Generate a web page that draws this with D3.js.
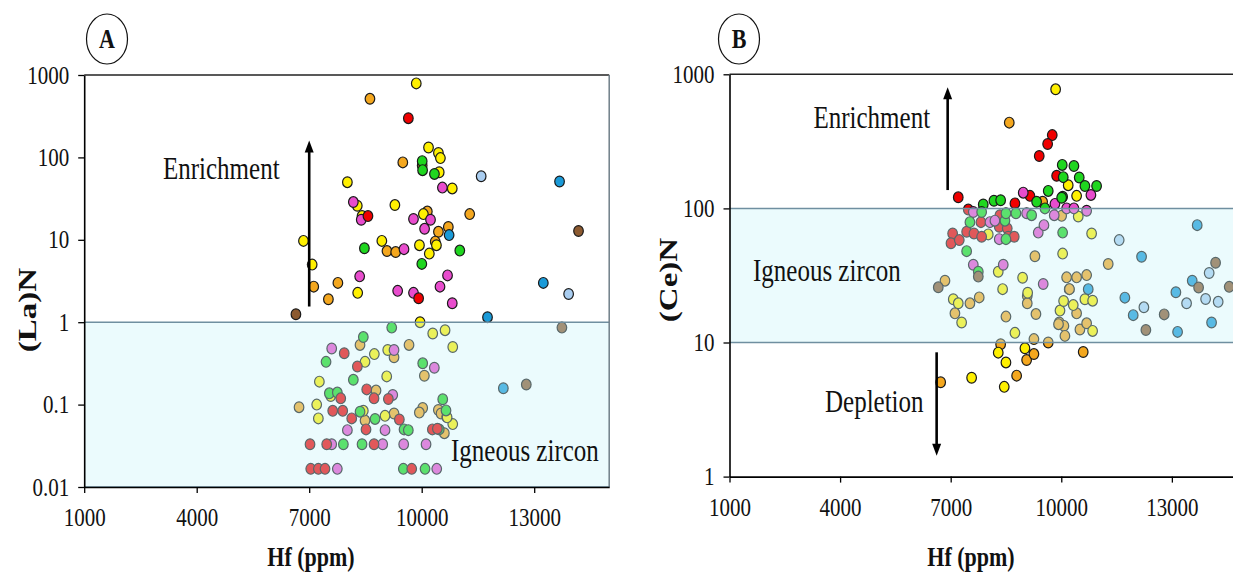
<!DOCTYPE html>
<html>
<head>
<meta charset="utf-8">
<script src="https://cdn.jsdelivr.net/npm/d3@7/dist/d3.min.js"></script>
<style>
  body { margin: 0; background: #fff; }
  svg { display: block; }
</style>
</head>
<body>
<svg id="chart" width="1233" height="574"></svg>
<script>
// ---- axis ticks ----
const hfTicks = [1000, 4000, 7000, 10000, 13000];
const laTicks = [0.01, 0.1, 1, 10, 100, 1000];
const ceTicks = [1, 10, 100, 1000];

// ---- marker colours per sample group ----
const groupColors = {
  orange: "#f4a71e",
  yellow: "#fff000",
  magenta: "#e84ccd",
  green: "#1fd61f",
  red: "#f00000",
  blue: "#1a9ad8",
  lightblue: "#a9cdf0",
  brown: "#8c5a30"
};

// ---- (La)N vs Hf (ppm) ----
const laOrange = [[8620,514],[9496,87],[10013,80],[10150,22],[11280,20.5],[10710,14.3],[10446,12.5],[10361,9.5],[9074,7.3],[9306,7.1],[7121,2.7],[7765,3.0],[7512,1.9],
  [9662,0.53],[8355,0.53],[9262,0.375],[10071,0.224],[8782,0.148],[6729,0.093],[8489,0.064],[9262,0.078],[10027,0.091],[9937,0.08],[10444,0.086],[10516,0.078],[10667,0.071],[10604,0.045]];
const laYellow = [[9855,791],[10182,132],[10446,113],[10499,98],[10467,66],[8018,50],[10815,42],[8282,25.9],[9285,26.4],[8409,19.4],[10045,20.5],[6847,9.7],[8937,9.7],[9940,8.6],[10203,6.8],[10393,8.6],[7079,5.0],[8293,2.27],
  [9956,1.0],[10294,0.73],[10623,0.8],[10828,0.5],[8737,0.41],[9094,0.46],[8489,0.33],[7271,0.19],[9067,0.22],[7574,0.127],[7200,0.1],[7244,0.068],[8443,0.084],[9022,0.073],[10828,0.058],[10678,0.07]];
const laMagenta = [[10552,43],[8177,28.7],[8388,17.5],[9781,17.9],[10235,17.5],[10077,13.6],[9528,7.7],[8346,3.6],[9359,2.4],[9781,2.27],[10488,2.7],[10689,3.7],[10815,1.7],
  [7600,0.48],[9262,0.46],[10337,0.28],[9228,0.131],[8018,0.049],[9022,0.049],[7600,0.033],[8960,0.033],[9520,0.033],[10116,0.033],[7750,0.0166],[10401,0.0166]];
const laGreen = [[10013,90],[10024,70],[10340,63],[8472,7.9],[11016,7.4],[10003,5.1],
  [9201,0.86],[8443,0.66],[7449,0.33],[10027,0.317],[8177,0.2],[7537,0.137],[7750,0.14],[10561,0.116],[8356,0.082],[8756,0.067],[10648,0.085],[9529,0.05],[9643,0.049],[10467,0.05],[7911,0.033],[8409,0.033],[9510,0.0166],[10089,0.0166]];
const laRed = [[9644,299],[8567,19.4],[9918,1.95],
  [7934,0.42],[8284,0.29],[8534,0.153],[8729,0.119],[7841,0.119],[9111,0.117],[7627,0.084],[7894,0.084],[8134,0.068],[9404,0.066],[8515,0.05],[10284,0.05],[10418,0.051],[7022,0.033],[7467,0.033],[8729,0.033],[7041,0.0166],[7244,0.0166],[7422,0.0166],[9734,0.0166]];
const laBlue = [[13676,51],[10731,11.4],[13243,3.0],[11755,1.15],[12177,0.158]];
const laLightBlue = [[11586,59],[13918,2.2]];
const laBrown = [[14182,12.8],[6646,1.25],[12789,0.175],[13739,0.86]];

// ---- (Ce)N vs Hf (ppm) ----
const ceOrange = [[8589,436],[9494,112],
  [10010,88],[9285,44],[6845,28.9],[10145,30.6],[10416,30.6],[10688,31.8],[10215,25],[7522,19.6],[7774,21.7],[9077,22.2],[9077,19.6],[10416,16.5],[7115,16.5],[8499,15.6],[9313,16.3],[9945,14.1],[10072,13.3],[10099,11.2],[10506,12.5],[10688,13.9],[9258,10.6],[11273,38.5],[9925,13.7],[10222,25],
  [6728,5.05],[8789,5.66],[8355,9.7],[9060,7.4],[9258,8.2],[9646,10],[10595,8.5]];
const ceYellow = [[9847,773],[10188,149],[10416,124],
  [10460,87],[10823,65],[8019,64],[10037,46],[8290,33.7],[8951,30.4],[8409,25],[7070,21],[7206,19.6],[10641,21],[10850,20.5],[10325,19],[7297,14.1],[9965,17.3],[10850,12.2],[8743,11.8],[9088,23.5],[10063,20.4],
  [7568,5.46],[8453,4.67],[8499,7.1],[8290,8.4],[9014,9.06]];
const ceRed = [[9755,352],[9630,302],[9402,246],[9874,175],[9150,124],[7205,121],[8743,109],
  [7477,98],[7821,79],[7053,65],[7008,55],[7233,58],[7433,67],[7631,65],[7840,61.5],[8317,73],[8534,71],[8561,61.5],[8724,61.5],[8336,89]];
const ceMagenta = [[8968,131],[10804,126],[9828,108],
  [7613,94],[8065,79],[8200,81],[9060,92],[9809,89],[10688,96],[10145,100],[10343,100],[8317,59],[9375,66],[9530,75],[7613,38],[8426,38],[9510,27.3]];
const ceGreen = [[10026,211],[10343,207],[10053,171],[10487,170],[10641,147],[10958,147],[9646,135],[10037,122],[8173,114],[8355,115],[7883,107],[9331,112],[10010,120],
  [7840,94],[7522,79],[8472,81],[8499,92],[8770,92],[9196,89],[9557,100],[10037,66],[7433,48],[7749,33.7],[8499,59]];
const ceBlue = [[10731,25],[12178,43.6],[13687,75],[13552,28.9],[13109,23.7],[14077,14.1],[11725,21.6],[11951,16],[13155,12]];
const ceLightBlue = [[11571,58],[14012,33],[13399,19.6],[13915,21.1],[14256,20.1],[12241,18.3]];
const ceBrown = [[6663,25.8],[14186,39.3],[13725,25.7],[14555,26],[12791,16.2],[12295,12.4],[7749,31]];

// ---- drawing ----
const SERIF = '"Liberation Serif","Times New Roman",Times,serif';
const SY = 1.27;          // vertical stretch of the lettering
const svg = d3.select("#chart");

function label(g, x, y, str, o = {}) {
  return g.append("text")
    .attr("transform", `translate(${x},${y}) scale(1,${o.sy || SY})${o.rot ? " rotate(-90)" : ""}`)
    .attr("text-anchor", o.anchor || "start")
    .attr("fill", "#111")
    .style("font-family", SERIF)
    .style("font-size", (o.size || 25) + "px")
    .style("font-weight", o.bold ? "bold" : "normal")
    .text(str);
}

function arrow(g, x0, y0, x1, y1) {
  const dir = Math.sign(y1 - y0);
  const head = 12, half = 4.5;
  g.append("line")
    .attr("x1", x0).attr("y1", y0).attr("x2", x1).attr("y2", y1 - dir * head * 0.8)
    .attr("stroke", "#000").attr("stroke-width", 2.6);
  g.append("path")
    .attr("d", `M${x1},${y1} L${x1 - half},${y1 - dir * head} L${x1 + half},${y1 - dir * head} Z`)
    .attr("fill", "#000");
}

function panel(cfg) {
  const g = svg.append("g");
  const x = d3.scaleLinear().domain([1000, 15000]).range([cfg.left, cfg.right]);
  const y = d3.scaleLog().domain(cfg.yDomain).range([cfg.bottom, cfg.top]);

  // sample markers
  cfg.series.forEach(s => {
    g.append("g").selectAll("ellipse").data(s.values).join("ellipse")
      .attr("cx", d => x(d[0])).attr("cy", d => y(d[1]))
      .attr("rx", 4.8).attr("ry", 5.4)
      .attr("fill", s.color)
      .attr("stroke", "#1a1a1a").attr("stroke-width", 1.2);
  });

  // igneous-zircon field, laid over the markers as a translucent wash
  const bTop = y(cfg.band[1]), bBot = y(cfg.band[0]);
  g.append("rect")
    .attr("x", cfg.left).attr("y", bTop)
    .attr("width", cfg.right - cfg.left).attr("height", bBot - bTop)
    .attr("fill", "rgb(200,243,249)").attr("fill-opacity", 0.36);
  cfg.band.forEach(v => {
    g.append("line")
      .attr("x1", cfg.left).attr("x2", cfg.right)
      .attr("y1", y(v)).attr("y2", y(v))
      .attr("stroke", "#6f8fa0").attr("stroke-width", 1.5);
  });

  // frame: top and right
  g.append("line").attr("x1", cfg.left).attr("x2", cfg.right)
    .attr("y1", cfg.top).attr("y2", cfg.top)
    .attr("stroke", "#222").attr("stroke-width", 1.6);
  g.append("line").attr("x1", cfg.right).attr("x2", cfg.right)
    .attr("y1", cfg.top).attr("y2", cfg.bottom)
    .attr("stroke", "#6f7f88").attr("stroke-width", 1.5);

  // x axis
  const ax = g.append("g").attr("transform", `translate(0,${cfg.bottom})`)
    .call(d3.axisBottom(x).tickValues(hfTicks).tickFormat(d => String(d)).tickSize(6).tickSizeOuter(0));
  ax.select(".domain").attr("stroke", "#000").attr("stroke-width", 1.6);
  ax.selectAll(".tick line").attr("stroke", "#000").attr("stroke-width", 1.3);
  ax.selectAll(".tick text")
    .attr("y", null).attr("dy", null)
    .attr("transform", `translate(0,39) scale(1,1.15)`)
    .attr("fill", "#111")
    .style("font-family", SERIF).style("font-size", "21px");

  // y axis
  const ay = g.append("g").attr("transform", `translate(${cfg.left},0)`)
    .call(d3.axisLeft(y).tickValues(cfg.yTicks).tickFormat(d => String(d)).tickSize(6).tickSizeOuter(0));
  ay.select(".domain").attr("stroke", "#000").attr("stroke-width", 1.6);
  ay.selectAll(".tick line").attr("stroke", "#000").attr("stroke-width", 1.3);
  ay.selectAll(".tick text")
    .attr("x", null).attr("dy", null)
    .attr("transform", `translate(-15,8) scale(1,1.15)`)
    .attr("fill", "#111")
    .style("font-family", SERIF).style("font-size", "21px");

  // axis titles
  label(g, cfg.xTitleX, cfg.titleY, "Hf (ppm)", { bold: true, size: 22, anchor: "middle", sy: 1.25 });
  label(g, cfg.yTitle[0], cfg.yTitle[1], cfg.yLabel, { bold: true, size: 26, anchor: "middle", rot: true });

  // panel letter
  g.append("ellipse").attr("cx", cfg.letter[0]).attr("cy", cfg.letter[1])
    .attr("rx", 20.5).attr("ry", 25).attr("fill", "none")
    .attr("stroke", "#111").attr("stroke-width", 1.2);
  label(g, cfg.letter[0], cfg.letter[1] + 8.5, cfg.letterText, { bold: true, size: 22, anchor: "middle" });

  return { g, x, y };
}

const seriesA = [
  { color: groupColors.orange, values: laOrange },
  { color: groupColors.yellow, values: laYellow },
  { color: groupColors.magenta, values: laMagenta },
  { color: groupColors.green, values: laGreen },
  { color: groupColors.red, values: laRed },
  { color: groupColors.blue, values: laBlue },
  { color: groupColors.lightblue, values: laLightBlue },
  { color: groupColors.brown, values: laBrown }
];
const seriesB = [
  { color: groupColors.orange, values: ceOrange },
  { color: groupColors.yellow, values: ceYellow },
  { color: groupColors.red, values: ceRed },
  { color: groupColors.magenta, values: ceMagenta },
  { color: groupColors.green, values: ceGreen },
  { color: groupColors.blue, values: ceBlue },
  { color: groupColors.lightblue, values: ceLightBlue },
  { color: groupColors.brown, values: ceBrown }
];

// Panel A: (La)N
const A = panel({
  left: 84.2, right: 609.2, top: 75, bottom: 487,
  yDomain: [0.01, 1000], yTicks: laTicks, band: [0.01, 1],
  series: seriesA, yLabel: "(La)N", yTitle: [36, 310],
  xTitleX: 311, titleY: 566, letter: [107, 39], letterText: "A"
});
label(A.g, 163, 178.5, "Enrichment");
label(A.g, 451, 461, "Igneous zircon");
arrow(A.g, A.x(7000), A.y(1.55), A.x(7000), A.y(160));

// Panel B: (Ce)N
const B = panel({
  left: 729.5, right: 1245.6, top: 74.3, bottom: 476.6,
  yDomain: [1, 1000], yTicks: ceTicks, band: [10, 100],
  series: seriesB, yLabel: "(Ce)N", yTitle: [677, 280],
  xTitleX: 971, titleY: 566, letter: [739, 39], letterText: "B"
});
label(B.g, 813.5, 127.5, "Enrichment");
label(B.g, 753, 281, "Igneous zircon");
label(B.g, 825, 412, "Depletion");
arrow(B.g, B.x(6918), B.y(137), B.x(6918), B.y(800));
arrow(B.g, B.x(6619), B.y(8.45), B.x(6619), B.y(1.43));
</script>
</body>
</html>
